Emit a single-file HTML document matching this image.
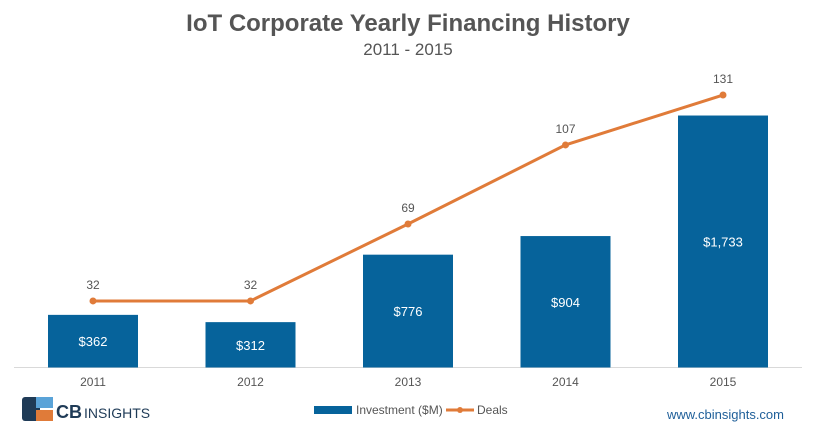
<!DOCTYPE html>
<html><head><meta charset="utf-8"><style>
body{margin:0;background:#fff;width:816px;height:432px;overflow:hidden;font-family:"Liberation Sans",sans-serif}
</style></head><body>
<svg width="816" height="432" xmlns="http://www.w3.org/2000/svg" id="chart">
<text x="408" y="31" text-anchor="middle" font-size="24" font-weight="bold" fill="#555">IoT Corporate Yearly Financing History</text>
<text x="408" y="55" text-anchor="middle" font-size="17" fill="#555">2011 - 2015</text>
<line x1="14" y1="367.5" x2="802" y2="367.5" stroke="#d9d9d9"/>
<g id="bars"></g><g id="line"></g><g id="xlabels"></g>
<g>
<rect x="314" y="406" width="38" height="8" fill="#06639b"/>
<text x="356" y="414" font-size="12" fill="#555">Investment ($M)</text>
<line x1="446" y1="410" x2="474" y2="410" stroke="#e07b39" stroke-width="3"/>
<circle cx="460" cy="410" r="3" fill="#e07b39"/>
<text x="477" y="414" font-size="12" fill="#555">Deals</text>
</g>
<g>
<rect x="22" y="397" width="18" height="24" rx="3" fill="#1f3b57"/>
<rect x="36" y="397" width="17" height="11" fill="#5aa3d8"/>
<rect x="36" y="410" width="17" height="11" fill="#e07b39"/>
<text x="56" y="418" font-size="18" font-weight="bold" fill="#1f3b57">CB</text>
<text x="84" y="418" font-size="14" fill="#1f3b57">INSIGHTS</text>
</g>
<text x="784" y="419" text-anchor="end" font-size="13" fill="#1f5f99">www.cbinsights.com</text>
</svg>
<script>
const categories=["2011","2012","2013","2014","2015"];
const investment=[362,312,776,904,1733];
const investmentLabels=["$362","$312","$776","$904","$1,733"];
const deals=[32,32,69,107,131];
const NS="http://www.w3.org/2000/svg";
const base=367.5;
function xc(i){return 93+i*157.5;}
function yInv(v){return base-v*0.1454;}
function yDeal(v){return base-v*2.08;}
function mk(tag,attrs,parent,text){const e=document.createElementNS(NS,tag);for(const k in attrs)e.setAttribute(k,attrs[k]);if(text!==undefined)e.textContent=text;document.getElementById(parent).appendChild(e);return e;}
categories.forEach((c,i)=>{
  const r=mk("rect",{x:xc(i)-45,y:yInv(investment[i]),width:90,height:base-yInv(investment[i]),fill:"#06639b"},"bars");
  
  
  const t=mk("text",{x:xc(i),y:(yInv(investment[i])+base)/2+5,"text-anchor":"middle","font-size":"13",fill:"#fff"},"bars",investmentLabels[i]);
  
  
  const xl=mk("text",{x:xc(i),y:386,"text-anchor":"middle","font-size":"12",fill:"#555"},"xlabels",c);
  
  
});
const pts=deals.map((d,i)=>xc(i)+","+yDeal(d)).join(" ");
const pl=mk("polyline",{points:pts,fill:"none",stroke:"#e07b39","stroke-width":"3"},"line");


deals.forEach((d,i)=>{
  const c=mk("circle",{cx:xc(i),cy:yDeal(d),r:3.5,fill:"#e07b39"},"line");
  
  
  const t=mk("text",{x:xc(i),y:yDeal(d)-12,"text-anchor":"middle","font-size":"12",fill:"#555"},"line",String(d));
  
  
});
</script>
</body></html>
